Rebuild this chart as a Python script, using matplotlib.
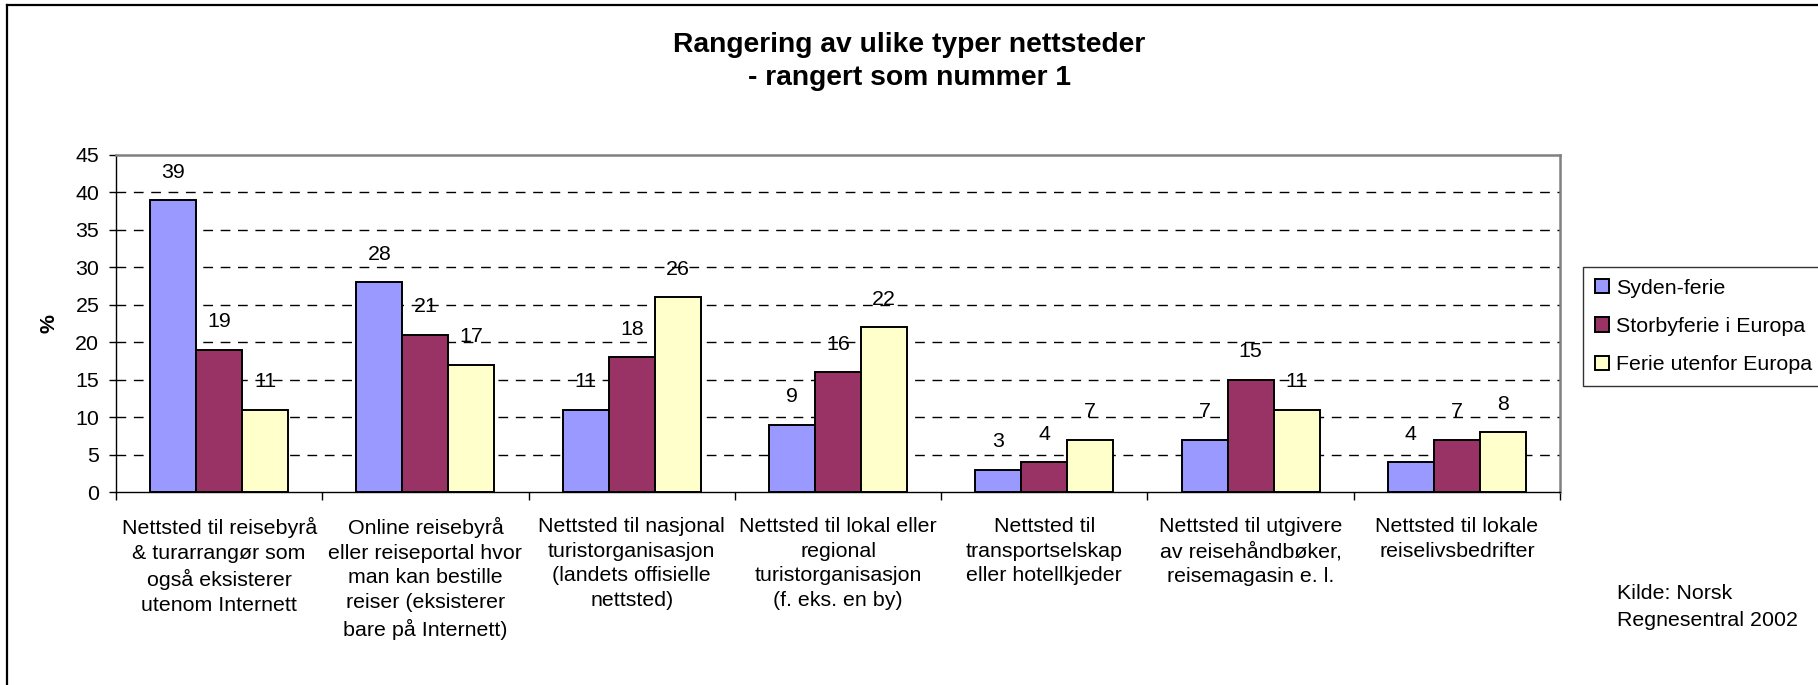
import matplotlib
matplotlib.use("Agg")
import matplotlib.pyplot as plt
from matplotlib.lines import Line2D
import numpy as np

plt.rcParams['font.family'] = ['Liberation Sans', 'DejaVu Sans']

categories = [
    "Nettsted til reisebyrå\n& turarrangør som\nogså eksisterer\nutenom Internett",
    "Online reisebyrå\neller reiseportal hvor\nman kan bestille\nreiser (eksisterer\nbare på Internett)",
    "Nettsted til nasjonal\nturistorganisasjon\n(landets offisielle\nnettsted)",
    "Nettsted til lokal eller\nregional\nturistorganisasjon\n(f. eks. en by)",
    "Nettsted til\ntransportselskap\neller hotellkjeder",
    "Nettsted til utgivere\nav reisehåndbøker,\nreisemagasin e. l.",
    "Nettsted til lokale\nreiselivsbedrifter",
]
series_names = ["Syden-ferie", "Storbyferie i Europa", "Ferie utenfor Europa"]
syden = [39, 28, 11, 9, 3, 7, 4]
storby = [19, 21, 18, 16, 4, 15, 7]
utenfor = [11, 17, 26, 22, 7, 11, 8]
colors = ["#9999FF", "#993366", "#FFFFCC"]
yticks = [0, 5, 10, 15, 20, 25, 30, 35, 40, 45]

W, H = 1818, 685
fig = plt.figure(figsize=(W / 100, H / 100), dpi=100)
ax = fig.add_axes([116 / W, 1 - 492 / H, (1560 - 116) / W, (492 - 155) / H])

fs = 15.4
x = np.arange(len(categories))
bw = 0.223
for i, (vals, name) in enumerate(zip([syden, storby, utenfor], series_names)):
    pos = x + (i - 1) * bw
    ax.bar(pos, vals, width=bw, color=colors[i], edgecolor="black",
           linewidth=1.4, label=name, zorder=3)
    for p, v in zip(pos, vals):
        ax.annotate(str(v), (p, v), xytext=(0, 20), textcoords="offset points",
                    ha="center", va="center", fontsize=fs, zorder=4)

ax.set_xlim(-0.5, len(categories) - 0.5)
ax.set_ylim(0, 45)
ax.set_yticks(yticks)
ax.tick_params(axis="y", labelsize=fs, length=5, width=1, direction="out", pad=7)
for t in yticks[1:-1]:
    ax.axhline(t, color="black", linewidth=1, dashes=(7, 5.5), zorder=1)

ax.set_xticks(np.arange(-0.5, len(categories), 1.0))
ax.set_xticklabels([])
ax.set_xticks(x, minor=True)
ax.set_xticklabels(categories, minor=True, fontsize=fs, linespacing=1.38)
ax.tick_params(axis="x", which="major", length=6, width=1, direction="out")
ax.tick_params(axis="x", which="minor", length=0, pad=18)

ax.set_ylabel("%", fontsize=fs, fontweight="bold", labelpad=12)

for s in ["left", "bottom"]:
    ax.spines[s].set_color("black")
    ax.spines[s].set_linewidth(1)
for s in ["top", "right"]:
    ax.spines[s].set_color("#808080")
    ax.spines[s].set_linewidth(1.8)

fig.text(0.5, 1 - 45 / H, "Rangering av ulike typer nettsteder", ha="center",
         va="center", fontsize=20.3, fontweight="bold")
fig.text(0.5, 1 - 78 / H, "- rangert som nummer 1", ha="center",
         va="center", fontsize=20.3, fontweight="bold")

leg = fig.legend(loc="upper left", bbox_to_anchor=(1583 / W, 1 - 267 / H),
                 bbox_transform=fig.transFigure, fontsize=fs, frameon=True,
                 fancybox=False, borderaxespad=0, borderpad=0.55,
                 handlelength=0.65, handleheight=0.65, handletextpad=0.35,
                 labelspacing=0.9)
leg.get_frame().set_edgecolor("black")
leg.get_frame().set_linewidth(1)

fig.text(1617 / W, 1 - 584 / H, "Kilde: Norsk\nRegnesentral 2002", ha="left",
         va="top", fontsize=fs, linespacing=1.5)

fig.add_artist(Line2D([7 / W, 7 / W], [0, 1 - 5 / H], color="black",
                      linewidth=1.6, transform=fig.transFigure))
fig.add_artist(Line2D([7 / W, 1], [1 - 5 / H, 1 - 5 / H], color="black",
                      linewidth=1.6, transform=fig.transFigure))

fig.savefig("out.png", dpi=100)
